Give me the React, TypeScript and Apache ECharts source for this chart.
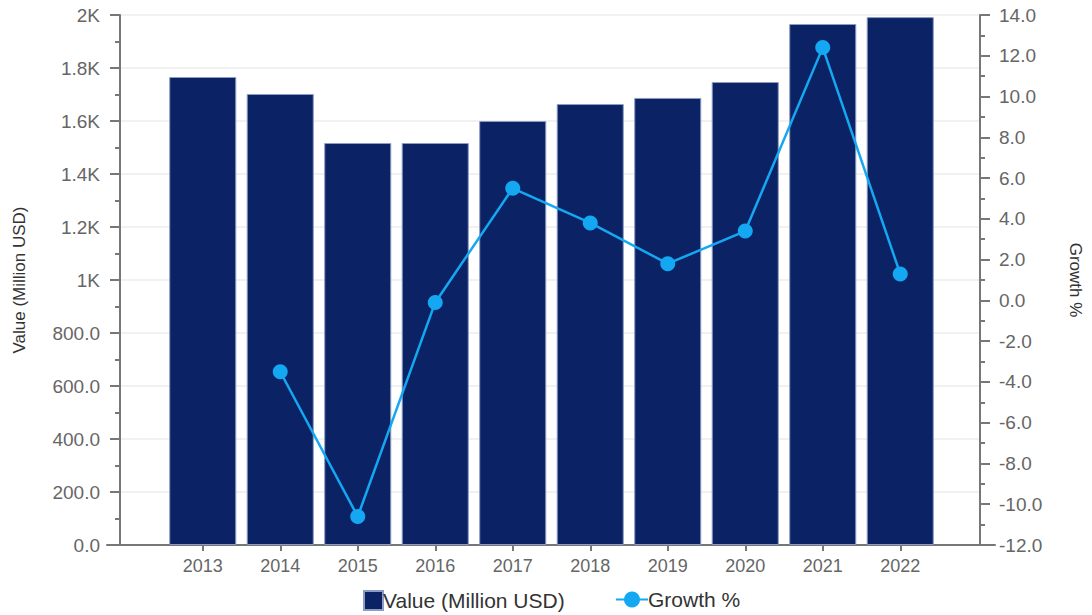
import React, { useEffect, useRef } from "react";
import * as echarts from "echarts";

const years = ["2013", "2014", "2015", "2016", "2017", "2018", "2019", "2020", "2021", "2022"];
const values = [1766, 1702, 1517, 1517, 1600, 1664, 1687, 1747, 1966, 1992];
const growth = [null, -3.5, -10.6, -0.1, 5.5, 3.8, 1.8, 3.4, 12.4, 1.3];

const FONT = "Liberation Sans, Arial, sans-serif";
const AXIS_GREY = "#777777";
const LABEL_GREY = "#666666";
const NAVY = "#0B2265";
const BLUE = "#14A8F2";

export default function App() {
  const ref = useRef<HTMLDivElement>(null);
  useEffect(() => {
    if (!ref.current) return;
    const chart = echarts.init(ref.current, null, { renderer: "svg" });
    chart.setOption({
      animation: false,
      textStyle: { fontFamily: FONT },
      grid: [
        { left: 120, right: 109, top: 15, bottom: 70 },
        { left: 164, right: 153, top: 15, bottom: 70 },
        { left: 107, right: 97, top: 15, bottom: 70 },
      ],
      legend: [
        {
          data: [{ name: "Value (Million USD)", icon: "rect" }],
          left: 363,
          top: 590,
          padding: 0,
          itemWidth: 19,
          itemHeight: 19,
          textStyle: { color: "#333", fontSize: 21, fontFamily: FONT, padding: [0, 0, 0, -5] },
        },
        {
          data: ["Growth %"],
          left: 615,
          top: 589,
          padding: 0,
          itemWidth: 32,
          itemHeight: 20,
          textStyle: { color: "#333", fontSize: 21, fontFamily: FONT, padding: [0, 0, 0, -5] },
        },
      ],
      xAxis: [
        { gridIndex: 0, type: "value", show: false, min: 0, max: 1 },
        {
          gridIndex: 1,
          type: "category",
          data: years,
          axisLine: { show: false },
          axisTick: { show: true, alignWithLabel: true, length: 6, lineStyle: { color: AXIS_GREY, width: 2 } },
          axisLabel: { color: LABEL_GREY, fontSize: 18, margin: 12, fontFamily: FONT },
        },
        {
          gridIndex: 2,
          type: "value",
          min: 0,
          max: 1,
          axisLine: { show: true, lineStyle: { color: AXIS_GREY, width: 2 } },
          axisTick: { show: false },
          axisLabel: { show: false },
          splitLine: { show: false },
        },
      ],
      yAxis: [
        {
          gridIndex: 0,
          type: "value",
          position: "left",
          min: 0,
          max: 2000,
          interval: 200,
          name: "Value (Million USD)",
          nameLocation: "middle",
          nameGap: 92,
          nameTextStyle: { color: "#333", fontSize: 17, fontFamily: FONT },
          axisLine: { show: true, lineStyle: { color: AXIS_GREY, width: 2 } },
          axisTick: { show: true, length: 10, lineStyle: { color: AXIS_GREY, width: 2 } },
          minorTick: { show: true, splitNumber: 2, length: 5, lineStyle: { color: AXIS_GREY, width: 2 } },
          axisLabel: {
            color: LABEL_GREY,
            fontSize: 19,
            margin: 20,
            fontFamily: FONT,
            formatter: (v: number) => (v >= 1000 ? v / 1000 + "K" : v.toFixed(1)),
          },
          splitLine: { show: true, lineStyle: { color: "#ececec", width: 1.5 } },
        },
        {
          gridIndex: 0,
          type: "value",
          position: "right",
          min: -12,
          max: 14,
          interval: 2,
          name: "Growth %",
          nameLocation: "middle",
          nameGap: 87,
          nameRotate: -90,
          nameTextStyle: { color: "#333", fontSize: 17, fontFamily: FONT },
          axisLine: { show: true, lineStyle: { color: AXIS_GREY, width: 2 } },
          axisTick: { show: true, length: 10, lineStyle: { color: AXIS_GREY, width: 2 } },
          minorTick: { show: true, splitNumber: 2, length: 5, lineStyle: { color: AXIS_GREY, width: 2 } },
          axisLabel: {
            color: LABEL_GREY,
            fontSize: 19,
            margin: 19,
            fontFamily: FONT,
            formatter: (v: number) => v.toFixed(1),
          },
          splitLine: { show: false },
        },
        { gridIndex: 1, type: "value", min: 0, max: 2000, show: false, splitLine: { show: false } },
        { gridIndex: 1, type: "value", min: -12, max: 14, show: false, splitLine: { show: false } },
        { gridIndex: 2, type: "value", show: false, splitLine: { show: false } },
      ],
      series: [
        {
          name: "Value (Million USD)",
          type: "bar",
          xAxisIndex: 1,
          yAxisIndex: 2,
          data: values,
          barCategoryGap: "13.5%",
          itemStyle: { color: NAVY, borderColor: "#8c9cc4", borderWidth: 1 },
          z: 2,
        },
        {
          name: "Growth %",
          type: "line",
          xAxisIndex: 1,
          yAxisIndex: 3,
          data: growth,
          symbol: "circle",
          symbolSize: 15,
          lineStyle: { color: BLUE, width: 2.5 },
          itemStyle: { color: BLUE },
          z: 3,
        },
      ],
    });
    return () => chart.dispose();
  }, []);
  return <div ref={ref} style={{ width: 1092, height: 615, position: "absolute", left: 0, top: 0 }} />;
}
